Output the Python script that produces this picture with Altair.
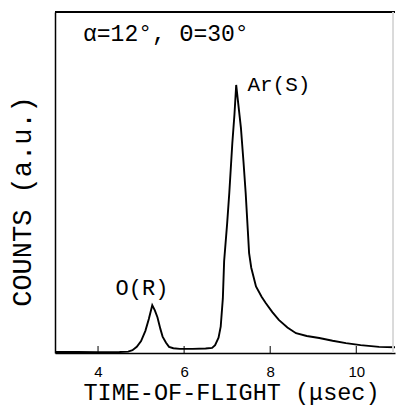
import altair as alt
import pandas as pd

# time-of-flight (usec) and counts (a.u.)
tof = [3.0, 3.5, 4.0, 4.5, 4.7, 4.8, 4.9, 5.0, 5.1, 5.18, 5.26, 5.32, 5.38, 5.45,
       5.5, 5.58, 5.65, 5.75, 5.9, 6.2, 6.5, 6.65, 6.72, 6.8, 6.85, 6.9, 6.93,
       7.0, 7.05, 7.12, 7.17, 7.21, 7.25, 7.32, 7.38, 7.43, 7.48, 7.51, 7.56,
       7.67, 7.8, 7.9, 8.05, 8.2, 8.4, 8.6, 8.85, 9.14, 9.45, 9.76, 10.1, 10.53, 10.9]
counts = [0.3, 0.3, 0.2, 0.3, 0.4, 0.8, 1.8, 3.5, 6.5, 10.0, 14.0, 12.5, 10.5, 7.0,
          4.8, 3.0, 1.8, 1.4, 1.2, 1.2, 1.3, 1.5, 2.3, 4.5, 7.7, 16.0, 27.0,
          38.0, 47.0, 61.5, 70.0, 78.6, 74.0, 66.0, 56.0, 47.0, 36.0, 29.3, 25.0,
          19.5, 16.5, 14.6, 12.0, 9.7, 7.5, 5.8, 5.0, 4.4, 3.6, 2.9, 2.3, 1.8, 1.7]

tick_values = [4, 6, 8, 10]

ann_labels = ["α=12°, Θ=30°", "Ar(S)", "O(R)"]
ann_t = [3.65, 7.47, 5.02]
ann_c = [93.5, 78.6, 19.0]

W, H = 340, 341
XDOM = [3, 10.9]
YDOM = [0, 100]
FONT = "Liberation Mono"

df = pd.DataFrame({"t": tof, "c": counts})
ticks_df = pd.DataFrame({"t": tick_values})
ann_df = pd.DataFrame({"text": ann_labels, "t": ann_t, "c": ann_c})

xs = alt.Scale(domain=XDOM, nice=False, zero=False)
ys = alt.Scale(domain=YDOM, nice=False)

line = alt.Chart(df).mark_line(color="black", strokeWidth=1.9).encode(
    x=alt.X("t:Q", scale=xs,
            axis=alt.Axis(values=tick_values, ticks=False, grid=False,
                          domainColor="black", domainWidth=1.5,
                          labelFont="Liberation Sans", labelFontSize=15,
                          labelColor="black", labelPadding=11,
                          title="TIME-OF-FLIGHT (μsec)", titleFont=FONT,
                          titleFontSize=23.5, titleFontWeight="normal",
                          titleColor="black", titlePadding=1,
                          titleX=176, titleAlign="center")),
    y=alt.Y("c:Q", scale=ys,
            axis=alt.Axis(labels=False, ticks=False, grid=False,
                          domainColor="black", domainWidth=1.5,
                          title="COUNTS (a.u.)", titleFont=FONT,
                          titleFontSize=27, titleFontWeight="normal",
                          titleColor="black", titleX=-33, titleY=189,
                          titleAngle=270, titleAlign="center",
                          titleBaseline="middle")),
)

tick_marks = alt.Chart(ticks_df).mark_rule(color="black", strokeWidth=1).encode(
    x=alt.X("t:Q", scale=xs),
    y=alt.value(H),
    y2=alt.value(H - 7),
)

top_border = alt.Chart(ticks_df).mark_rule(color="black", strokeWidth=1.5).encode(
    x=alt.value(0), x2=alt.value(W), y=alt.value(0)
)
right_border = alt.Chart(ticks_df).mark_rule(color="#d8d8d8", strokeWidth=1).encode(
    x=alt.value(W - 2), y=alt.value(0), y2=alt.value(H)
)

ann_base = alt.Chart(ann_df).encode(
    x=alt.X("t:Q", scale=xs),
    y=alt.Y("c:Q", scale=ys),
    text="text:N",
)
ann_alpha = ann_base.mark_text(font=FONT, fontSize=23, color="black",
                               baseline="middle", align="left").transform_filter(
    alt.datum.text == ann_labels[0])
ann_ar = ann_base.mark_text(font=FONT, fontSize=21, color="black",
                            baseline="middle", align="left").transform_filter(
    alt.datum.text == ann_labels[1])
ann_o = ann_base.mark_text(font=FONT, fontSize=22, color="black",
                           baseline="middle", align="center").transform_filter(
    alt.datum.text == ann_labels[2])

chart = alt.layer(line, tick_marks, top_border, right_border,
                  ann_alpha, ann_ar, ann_o).properties(
    width=W, height=H,
    autosize=alt.AutoSizeParams(type="none"),
    padding={"left": 55, "top": 12, "right": 1, "bottom": 52},
    background="white",
).configure_view(stroke=None)

chart.save("out.html", embed_options={"renderer": "svg", "actions": False})
